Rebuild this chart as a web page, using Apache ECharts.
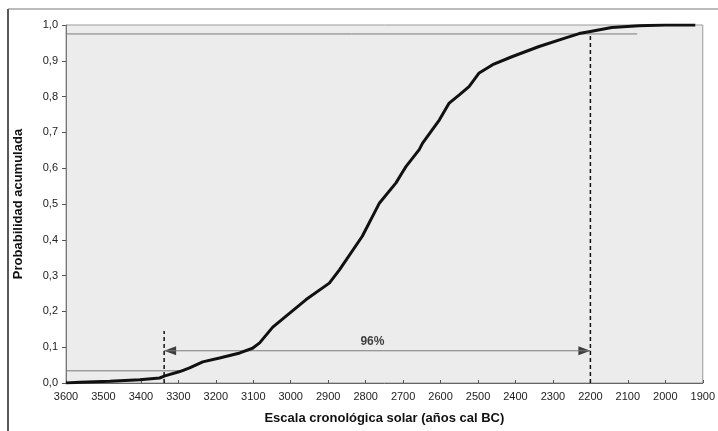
<!DOCTYPE html>
<html>
<head>
<meta charset="utf-8">
<script src="https://cdn.jsdelivr.net/npm/echarts@6/dist/echarts.min.js"></script>
<style>
html,body{margin:0;padding:0;background:#fff;}
#c{width:718px;height:431px;}
</style>
</head>
<body>
<div id="c"></div>
<script>
// Cumulative probability curve (year cal BC, probability)
const years = [3600, 3563, 3483, 3403, 3350, 3336, 3296, 3270, 3235, 3190, 3136, 3102, 3083, 3048, 2959, 2897, 2870, 2809, 2763, 2719, 2701, 2692, 2657, 2648, 2603, 2577, 2550, 2524, 2497, 2461, 2408, 2337, 2266, 2230, 2200, 2143, 2071, 2000, 1920];
const probs = [0.000, 0.002, 0.005, 0.009, 0.014, 0.020, 0.032, 0.042, 0.059, 0.070, 0.084, 0.097, 0.112, 0.156, 0.233, 0.279, 0.316, 0.410, 0.503, 0.559, 0.590, 0.605, 0.652, 0.670, 0.735, 0.782, 0.805, 0.828, 0.866, 0.889, 0.912, 0.940, 0.964, 0.976, 0.982, 0.993, 0.998, 1.000, 1.000];

// Reference lines
const upperLine = [[3600, 0.975], [2075, 0.975]];
const lowerLine = [[3600, 0.034], [3283, 0.034]];
const leftDash = [[3338, 0], [3338, 0.145]];
const rightDash = [[2200, 0], [2200, 0.98]];
const arrowLine = [[3338, 0.09], [2200, 0.09]];
const intervalLabel = [[2782, 0.115, '96%']];

const xTicks = {min: 1900, max: 3600, interval: 100};
const yTicks = {min: 0, max: 1, interval: 0.1};

const curve = years.map((y, i) => [y, probs[i]]);
const font = 'Liberation Sans, Arial, sans-serif';

const chart = echarts.init(document.getElementById('c'), null, {renderer: 'canvas'});
chart.setOption({
  animation: false,
  backgroundColor: '#ffffff',
  grid: {
    left: 66, right: 14, top: 25, bottom: 48,
    show: true, backgroundColor: '#ececec', borderColor: '#9a9a9a', borderWidth: 1
  },
  xAxis: {
    type: 'value', inverse: true,
    min: xTicks.min, max: xTicks.max, interval: xTicks.interval,
    name: 'Escala cronológica solar (años cal BC)',
    nameLocation: 'middle', nameGap: 29,
    nameTextStyle: {fontFamily: font, fontSize: 13, fontWeight: 'bold', color: '#111'},
    axisLine: {onZero: false, lineStyle: {color: '#666', width: 1}},
    axisTick: {show: true, inside: true, length: 3, lineStyle: {color: '#555'}},
    axisLabel: {fontFamily: font, fontSize: 11, color: '#222', margin: 8, formatter: v => String(v)},
    splitLine: {show: false}
  },
  yAxis: {
    type: 'value',
    min: yTicks.min, max: yTicks.max, interval: yTicks.interval,
    name: 'Probabilidad acumulada',
    nameLocation: 'middle', nameGap: 41,
    nameTextStyle: {fontFamily: font, fontSize: 13, fontWeight: 'bold', color: '#111'},
    axisLine: {show: true, lineStyle: {color: '#777', width: 1}},
    axisTick: {show: true, length: 4, lineStyle: {color: '#555'}},
    axisLabel: {fontFamily: font, fontSize: 11, color: '#222', margin: 8,
      formatter: v => v.toFixed(1).replace('.', ',')},
    splitLine: {show: false}
  },
  graphic: [
    {type: 'line', shape: {x1: 8, y1: 9, x2: 8, y2: 431}, style: {stroke: '#222', lineWidth: 1.5}},
    {type: 'line', shape: {x1: 8, y1: 9, x2: 718, y2: 9}, style: {stroke: '#777', lineWidth: 1}}
  ],
  series: [
    {type: 'line', data: upperLine, showSymbol: false, symbol: 'none', silent: true,
      lineStyle: {color: '#7a7a7a', width: 1}},
    {type: 'line', data: lowerLine, showSymbol: false, symbol: 'none', silent: true,
      lineStyle: {color: '#7a7a7a', width: 1}},
    {type: 'line', data: arrowLine, showSymbol: false, symbol: 'none', silent: true,
      lineStyle: {color: '#7a7a7a', width: 1}},
    {type: 'line', data: leftDash, showSymbol: false, symbol: 'none', silent: true,
      lineStyle: {color: '#111', width: 1.5, type: [4, 3]}},
    {type: 'line', data: rightDash, showSymbol: false, symbol: 'none', silent: true,
      lineStyle: {color: '#111', width: 1.5, type: [4, 3]}},
    {type: 'line', data: curve, showSymbol: false, symbol: 'none', silent: true,
      lineStyle: {color: '#111', width: 3}},
    {type: 'scatter', data: [arrowLine[0]], silent: true,
      symbol: 'path://M10,0 L0,5 L10,10 Z', symbolSize: [12, 9], symbolOffset: [6, 0],
      itemStyle: {color: '#111'}},
    {type: 'scatter', data: [arrowLine[1]], silent: true,
      symbol: 'path://M0,0 L10,5 L0,10 Z', symbolSize: [12, 9], symbolOffset: [-6, 0],
      itemStyle: {color: '#111'}},
    {type: 'scatter', data: intervalLabel, silent: true, symbol: 'circle', symbolSize: 0,
      label: {show: true, position: 'inside', formatter: p => p.data[2],
        fontFamily: font, fontSize: 12, fontWeight: 'bold', color: '#111'}}
  ]
});
</script>
</body>
</html>
